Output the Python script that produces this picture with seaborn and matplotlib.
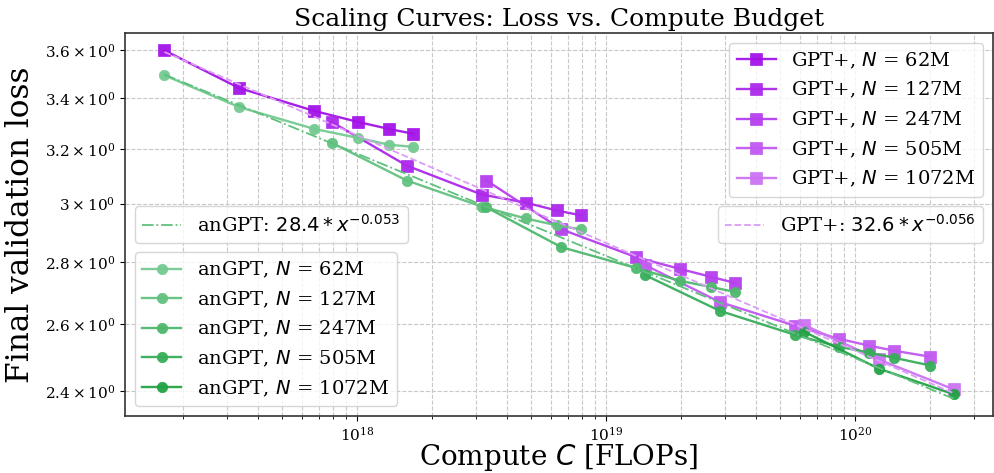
import numpy as np
import matplotlib
matplotlib.use("Agg")
import matplotlib.pyplot as plt
from matplotlib.ticker import NullFormatter
import seaborn as sns

# Model sizes (millions of parameters)
model_sizes = [62, 127, 247, 505, 1072]

# Compute budgets (FLOPs) per model size
compute_62m = [1.68e17, 3.36e17, 6.72e17, 1.01e18, 1.34e18, 1.68e18]
compute_127m = [7.9e17, 1.58e18, 3.16e18, 4.74e18, 6.32e18, 7.9e18]
compute_247m = [3.3e18, 6.6e18, 1.32e19, 1.98e19, 2.64e19, 3.3e19]
compute_505m = [1.43e19, 2.86e19, 5.72e19, 8.58e19, 1.14e20, 1.43e20, 2.0e20]
compute_1072m = [6.2e19, 1.24e20, 2.48e20]

# Final validation loss, GPT+
gpt_loss_62m = [3.600, 3.442, 3.350, 3.306, 3.279, 3.260]
gpt_loss_127m = [3.306, 3.139, 3.033, 3.004, 2.976, 2.959]
gpt_loss_247m = [3.084, 2.910, 2.815, 2.776, 2.750, 2.730]
gpt_loss_505m = [2.789, 2.669, 2.595, 2.555, 2.534, 2.519, 2.501]
gpt_loss_1072m = [2.598, 2.493, 2.406]

# Final validation loss, anGPT
an_loss_62m = [3.495, 3.365, 3.279, 3.244, 3.218, 3.210]
an_loss_127m = [3.225, 3.084, 2.990, 2.948, 2.924, 2.910]
an_loss_247m = [2.987, 2.849, 2.779, 2.737, 2.717, 2.701]
an_loss_505m = [2.756, 2.641, 2.567, 2.531, 2.513, 2.498, 2.475]
an_loss_1072m = [2.577, 2.466, 2.392]

# Power-law fits: loss = a * C^(-b)
an_fit = [28.4, 0.0528]
gpt_fit = [32.6, 0.0556]

yticks = [2.4, 2.6, 2.8, 3.0, 3.2, 3.4, 3.6]

gpt_colors = ["#a313e8", "#ac28eb", "#b63fee", "#c158f1", "#cc73f3"]
an_colors = ["#74ca90", "#62c17f", "#4db86c", "#37ad59", "#22a244"]
gpt_fit_color = "#dc9cf5"
an_fit_color = "#5fc07d"

plt.rcParams["font.family"] = ["DejaVu Serif"]
plt.rcParams["mathtext.fontset"] = "dejavusans"

compute = [compute_62m, compute_127m, compute_247m, compute_505m, compute_1072m]
gpt_loss = [gpt_loss_62m, gpt_loss_127m, gpt_loss_247m, gpt_loss_505m, gpt_loss_1072m]
an_loss = [an_loss_62m, an_loss_127m, an_loss_247m, an_loss_505m, an_loss_1072m]

fig = plt.figure(figsize=(9.94, 4.73), dpi=100)
ax = fig.add_axes([125 / 994, 57 / 473, 868 / 994, 383 / 473])
ax.set_xscale("log")
ax.set_yscale("log")

gpt_handles = []
for n, c, loss, col in zip(model_sizes, compute, gpt_loss, gpt_colors):
    sns.lineplot(x=c, y=loss, ax=ax, color=col, marker="s", markersize=8,
                 markeredgecolor=col, markeredgewidth=0.5, linewidth=1.7,
                 alpha=0.95, label=f"GPT+, $N$ = {n}M", legend=False)
    gpt_handles.append(ax.lines[-1])

an_handles = []
for n, c, loss, col in zip(model_sizes, compute, an_loss, an_colors):
    sns.lineplot(x=c, y=loss, ax=ax, color=col, marker="o", markersize=7.5,
                 markeredgecolor=col, markeredgewidth=0.5, linewidth=1.7,
                 alpha=0.95, label=f"anGPT, $N$ = {n}M", legend=False)
    an_handles.append(ax.lines[-1])

all_c = np.concatenate([np.asarray(c) for c in compute])
xs = np.geomspace(all_c.min(), all_c.max(), 200)
an_line, = ax.plot(xs, an_fit[0] * xs ** (-an_fit[1]), color=an_fit_color,
                   ls="-.", lw=1.3,
                   label=rf"anGPT: ${an_fit[0]:.1f} * x^{{-{an_fit[1]:.3f}}}$")
gpt_line, = ax.plot(xs, gpt_fit[0] * xs ** (-gpt_fit[1]), color=gpt_fit_color,
                    ls="--", lw=1.3,
                    label=rf"GPT+: ${gpt_fit[0]:.1f} * x^{{-{gpt_fit[1]:.3f}}}$")

ax.set_yticks(yticks)
ax.yaxis.set_minor_formatter(NullFormatter())
ax.tick_params(axis="both", labelsize=11)

ax.grid(True, which="major", ls="--", lw=0.8, color="#c8c8c8")
ax.grid(True, which="minor", axis="x", ls="--", lw=0.8, color="#c8c8c8")
for s in ax.spines.values():
    s.set_color("#333333")
    s.set_linewidth(1.2)

ax.set_title("Scaling Curves: Loss vs. Compute Budget", fontsize=18, pad=5)
ax.set_xlabel("Compute $C$ [FLOPs]", fontsize=20, labelpad=-1)
ax.set_ylabel("Final validation loss", fontsize=22.5, labelpad=6)

leg_fs = 14
leg_kw = dict(fontsize=leg_fs, labelspacing=0.48)
l1 = ax.legend(handles=gpt_handles, loc="upper right", **leg_kw)
ax.add_artist(l1)
l2 = ax.legend(handles=[gpt_line], loc="center right", **leg_kw)
ax.add_artist(l2)
l3 = ax.legend(handles=[an_line], loc="center left", **leg_kw)
ax.add_artist(l3)
ax.legend(handles=an_handles, loc="lower left", **leg_kw)

fig.savefig("out.png", dpi=100)
